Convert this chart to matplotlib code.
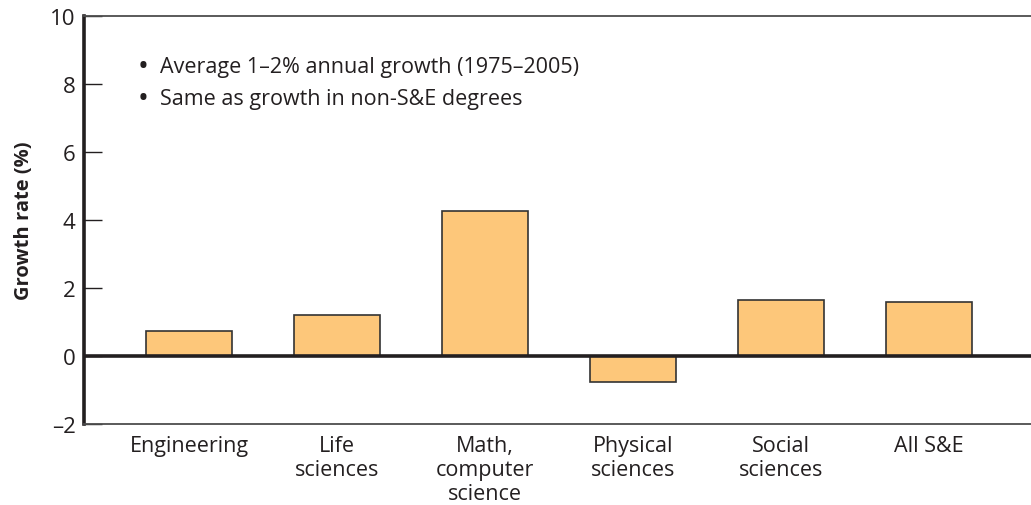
import matplotlib.pyplot as plt

plt.rcParams['font.family'] = ['Open Sans', 'DejaVu Sans']

# Данные
categories = ['Engineering', 'Life\nsciences', 'Math,\ncomputer\nscience',
              'Physical\nsciences', 'Social\nsciences', 'All S&E']
growth = [0.74, 1.21, 4.26, -0.76, 1.65, 1.59]
notes = ['Average 1–2% annual growth (1975–2005)',
         'Same as growth in non-S&E degrees']
yticks = [-2, 0, 2, 4, 6, 8, 10]

fig = plt.figure(figsize=(10.31, 5.06), dpi=100)
ax = fig.add_axes([0.0815, 0.160, 0.9185, 0.8064])

x = range(len(categories))
ax.bar(x, growth, width=0.58, color='#fdc77a', edgecolor='#333333', linewidth=1.2, zorder=2)
ax.axhline(0, color='#231f20', linewidth=2.6, zorder=3)

ax.set_xlim(-0.71, 5.69)
ax.set_ylim(-2, 10)
ax.set_yticks(yticks)
ax.set_yticklabels(['–2' if t < 0 else str(t) for t in yticks])
ax.set_xticks(list(x))
ax.set_xticklabels(categories, fontsize=15.5, color='#231f20', linespacing=1.18)
ax.tick_params(axis='x', length=0, pad=8)
ax.tick_params(axis='y', direction='in', length=13, width=1, labelsize=16,
               color='#231f20', labelcolor='#231f20', pad=6)

ax.spines['right'].set_visible(False)
ax.spines['left'].set_linewidth(2.6)
ax.spines['left'].set_color('#231f20')
for s in ['top', 'bottom']:
    ax.spines[s].set_linewidth(1.3)
    ax.spines[s].set_color('#4d4d4d')

ax.set_ylabel('Growth rate (%)', fontsize=14.5, fontweight='bold', color='#231f20', labelpad=12)

for i, t in enumerate(notes):
    yy = 0.877 - i * 0.079
    ax.text(0.0623, yy, '•', transform=ax.transAxes, fontsize=21,
            color='#231f20', va='center', ha='center')
    ax.text(0.0803, yy, t, transform=ax.transAxes,
            fontsize=15.5, color='#231f20', va='center')

fig.savefig('out.png', dpi=100)
